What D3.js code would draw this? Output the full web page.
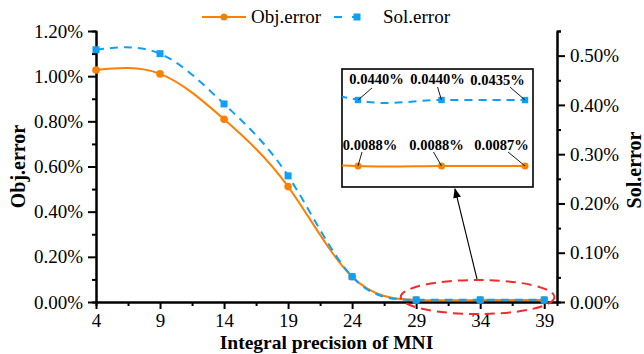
<!DOCTYPE html>
<html>
<head>
<meta charset="utf-8">
<script src="https://cdn.jsdelivr.net/npm/d3@7"></script>
<style>
  body { margin: 0; background: #fff; }
  svg { display: block; font-family: "Liberation Serif", "Times New Roman", serif; }
</style>
</head>
<body>
<svg class="chart" width="644" height="354"></svg>
<script>
const precision = [4, 9, 14, 19, 24, 29, 34, 39];
const objError = [1.027, 1.01, 0.809, 0.511, 0.112, 0.0088, 0.0088, 0.0087];
const solError = [0.512, 0.504, 0.402, 0.256, 0.0514, 0.0044, 0.0044, 0.00435];

const xTicks = [4, 9, 14, 19, 24, 29, 34, 39];
const leftTicks = [0, 0.2, 0.4, 0.6, 0.8, 1.0, 1.2];
const rightTicks = [0, 0.1, 0.2, 0.3, 0.4, 0.5];

// zoomed part (last three points)
const insetPrecision = [29, 34, 39];
const objLabels = ["0.0088%", "0.0088%", "0.0087%"];
const solLabels = ["0.0440%", "0.0440%", "0.0435%"];

const ORANGE = "#ff8000";
const BLUE = "#0fa0f5";
const FONT = "Liberation Serif";

const svg = d3.select(".chart");

const x = d3.scaleLinear().domain([4, 40]).range([96, 557]);
const yL = d3.scaleLinear().domain([0, 1.2]).range([302, 31]);
const yR = d3.scaleLinear().domain([0, 0.55]).range([302, 31]);

const pct = (v) => d3.format(".2f")(v) + "%";

function styleAxis(g) {
  g.attr("font-family", FONT).attr("font-size", 19);
  g.selectAll("path").attr("stroke", "#000").attr("stroke-width", 2);
  g.selectAll("line").attr("stroke", "#000").attr("stroke-width", 2);
  g.selectAll("text").attr("fill", "#000");
}

// minor ticks
svg.append("g")
  .attr("transform", `translate(0,${yL(0)})`)
  .call(d3.axisBottom(x).tickValues(d3.range(6.5, 40, 5)).tickSize(4).tickFormat(""))
  .call(styleAxis);
svg.append("g")
  .attr("transform", `translate(${x(4)},0)`)
  .call(d3.axisLeft(yL).tickValues(d3.range(0.1, 1.2, 0.2)).tickSize(4).tickFormat(""))
  .call(styleAxis);
svg.append("g")
  .attr("transform", `translate(${x(40)},0)`)
  .call(d3.axisRight(yR).tickValues(d3.range(0.05, 0.56, 0.1)).tickSize(4).tickFormat(""))
  .call(styleAxis);

// major axes
svg.append("g")
  .attr("transform", `translate(0,${yL(0)})`)
  .call(d3.axisBottom(x).tickValues(xTicks).tickSize(7).tickSizeOuter(0).tickPadding(5))
  .call(styleAxis);
svg.append("g")
  .attr("transform", `translate(${x(4)},0)`)
  .call(d3.axisLeft(yL).tickValues(leftTicks).tickSize(8).tickSizeOuter(0).tickPadding(5).tickFormat(pct))
  .call(styleAxis);
svg.append("g")
  .attr("transform", `translate(${x(40)},0)`)
  .call(d3.axisRight(yR).tickValues(rightTicks).tickSize(8).tickSizeOuter(0).tickPadding(5).tickFormat(pct))
  .call(styleAxis);

// titles
svg.append("text")
  .attr("x", (x(4) + x(40)) / 2).attr("y", 349)
  .attr("text-anchor", "middle")
  .style("font-size", "19.5px").style("font-weight", "bold")
  .text("Integral precision of MNI");
svg.append("text")
  .attr("transform", `translate(25,${(yL(0) + yL(1.2)) / 2}) rotate(-90)`)
  .attr("text-anchor", "middle")
  .style("font-size", "20px").style("font-weight", "bold")
  .text("Obj.error");
svg.append("text")
  .attr("transform", `translate(641,170) rotate(-90)`)
  .attr("text-anchor", "middle")
  .style("font-size", "20px").style("font-weight", "bold")
  .text("Sol.error");

const objData = precision.map((p, i) => ({ p, v: objError[i] }));
const solData = precision.map((p, i) => ({ p, v: solError[i] }));

// main series
const objLine = d3.line().x((d) => x(d.p)).y((d) => yL(d.v)).curve(d3.curveNatural);
const solLine = d3.line().x((d) => x(d.p)).y((d) => yR(d.v)).curve(d3.curveNatural);

svg.append("path").datum(objData)
  .attr("d", objLine).attr("fill", "none")
  .attr("stroke", ORANGE).attr("stroke-width", 2);
svg.selectAll(".obj-dot").data(objData).enter()
  .append("circle").attr("class", "obj-dot")
  .attr("cx", (d) => x(d.p)).attr("cy", (d) => yL(d.v))
  .attr("r", 3.8).attr("fill", ORANGE);

svg.append("path").datum(solData)
  .attr("d", solLine).attr("fill", "none")
  .attr("stroke", BLUE).attr("stroke-width", 2)
  .attr("stroke-dasharray", "8,6");
svg.selectAll(".sol-dot").data(solData).enter()
  .append("rect").attr("class", "sol-dot")
  .attr("x", (d) => x(d.p) - 3.5).attr("y", (d) => yR(d.v) - 3.5)
  .attr("width", 7).attr("height", 7).attr("fill", BLUE);

// red ellipse around the tail
svg.append("ellipse")
  .attr("cx", x(33.8)).attr("cy", yL(0.022))
  .attr("rx", x(39.8) - x(33.8)).attr("ry", 17)
  .attr("fill", "none").attr("stroke", "#f22b2b")
  .attr("stroke-width", 2).attr("stroke-dasharray", "10,6");

// arrow to inset
svg.append("defs").append("marker")
  .attr("id", "arrow").attr("viewBox", "0 0 10 10")
  .attr("refX", 9).attr("refY", 5)
  .attr("markerWidth", 9).attr("markerHeight", 9)
  .attr("orient", "auto-start-reverse")
  .append("path").attr("d", "M0,1L10,5L0,9Z").attr("fill", "#000");
svg.append("line")
  .attr("x1", 477).attr("y1", 279).attr("x2", 455).attr("y2", 189)
  .attr("stroke", "#000").attr("stroke-width", 1.1)
  .attr("marker-end", "url(#arrow)");

// inset
const box = { x: 342, y: 69, w: 191, h: 118 };
const xi = d3.scaleLinear().domain([29, 39]).range([358, 525]);
const yiObj = d3.scaleLinear().domain([0, 1]).range([166.5, 106.5]);
const yiSol = d3.scaleLinear().domain([0, 0.05]).range([103.8, 60.7]);

svg.select("defs").append("clipPath").attr("id", "inset-clip")
  .append("rect").attr("x", box.x).attr("y", box.y).attr("width", box.w).attr("height", box.h);

const inset = svg.append("g");
inset.append("rect")
  .attr("x", box.x).attr("y", box.y).attr("width", box.w).attr("height", box.h)
  .attr("fill", "#fff").attr("stroke", "#000").attr("stroke-width", 1.6);

const clipped = inset.append("g").attr("clip-path", "url(#inset-clip)");
clipped.append("path").datum(objData)
  .attr("d", d3.line().x((d) => xi(d.p)).y((d) => yiObj(d.v)).curve(d3.curveCardinal.tension(0)))
  .attr("fill", "none").attr("stroke", ORANGE).attr("stroke-width", 2);
clipped.append("path").datum(solData)
  .attr("d", d3.line().x((d) => xi(d.p)).y((d) => yiSol(d.v)).curve(d3.curveCardinal.tension(0)))
  .attr("fill", "none").attr("stroke", BLUE).attr("stroke-width", 2)
  .attr("stroke-dasharray", "8,6");

const insetObj = objData.filter((d) => insetPrecision.includes(d.p));
const insetSol = solData.filter((d) => insetPrecision.includes(d.p));

inset.selectAll(".iobj").data(insetObj).enter()
  .append("circle").attr("class", "iobj")
  .attr("cx", (d) => xi(d.p)).attr("cy", (d) => yiObj(d.v))
  .attr("r", 3.5).attr("fill", ORANGE);
inset.selectAll(".isol").data(insetSol).enter()
  .append("rect").attr("class", "isol")
  .attr("x", (d) => xi(d.p) - 3.2).attr("y", (d) => yiSol(d.v) - 3.2)
  .attr("width", 6.4).attr("height", 6.4).attr("fill", BLUE);

// labels with leader lines
const solOffsets = [[18.5, -16, 14, -12], [-4, -16, -4, -13], [-27.5, -15, -15, -13]];
const objOffsets = [[12, -16, 4, -14], [-5, -16, -8, -14], [-23.5, -16, -17, -14]];

function addLabels(data, labels, offsets, yScale) {
  data.forEach((d, i) => {
    const px = xi(d.p), py = yScale(d.v);
    const o = offsets[i];
    inset.append("line")
      .attr("x1", px).attr("y1", py)
      .attr("x2", px + o[2]).attr("y2", py + o[3])
      .attr("stroke", "#000").attr("stroke-width", 0.9);
    inset.append("text")
      .attr("x", px + o[0]).attr("y", py + o[1])
      .attr("text-anchor", "middle")
      .style("font-size", "14.5px").style("font-weight", "bold")
      .text(labels[i]);
  });
}
addLabels(insetSol, solLabels, solOffsets, yiSol);
addLabels(insetObj, objLabels, objOffsets, yiObj);

// legend
const legend = svg.append("g");
legend.append("line")
  .attr("x1", 202).attr("x2", 246).attr("y1", 17).attr("y2", 17)
  .attr("stroke", ORANGE).attr("stroke-width", 2);
legend.append("circle").attr("cx", 224).attr("cy", 17).attr("r", 3.5).attr("fill", ORANGE);
legend.append("text").attr("x", 251).attr("y", 23).style("font-size", "19px").text("Obj.error");
legend.append("line")
  .attr("x1", 334).attr("x2", 366).attr("y1", 17).attr("y2", 17)
  .attr("stroke", BLUE).attr("stroke-width", 2).attr("stroke-dasharray", "8,10");
legend.append("rect").attr("x", 353.5).attr("y", 13.5).attr("width", 7).attr("height", 7).attr("fill", BLUE);
legend.append("text").attr("x", 383).attr("y", 23).style("font-size", "19px").text("Sol.error");
</script>
</body>
</html>
